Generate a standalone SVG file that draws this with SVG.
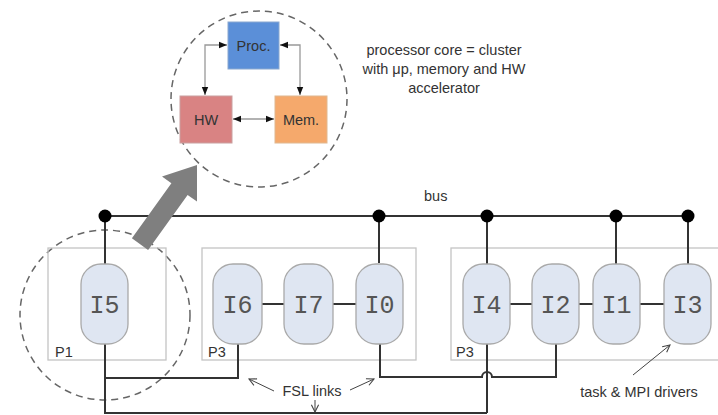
<svg xmlns="http://www.w3.org/2000/svg" width="718" height="415" viewBox="0 0 718 415">
<defs>
<style>
.box{fill:none;stroke:#c4c4c4;stroke-width:1.3}
.pill{fill:#dfe6f2;stroke:#a9a9a9;stroke-width:1.3}
.pl{font-family:"Liberation Mono","Courier New",monospace;font-size:25px;fill:#555;text-anchor:middle}
.lbl{font-family:"Liberation Sans",Arial,sans-serif;font-size:14.5px;fill:#333}
.wire{fill:none;stroke:#333;stroke-width:2}
.thin{fill:none;stroke:#444;stroke-width:1}
.dash{fill:none;stroke:#666;stroke-width:1.5;stroke-dasharray:7,5}
.dot{fill:#000}
</style>
<marker id="ah" viewBox="0 0 10 10" refX="10" refY="5" markerWidth="8" markerHeight="8" orient="auto-start-reverse" markerUnits="userSpaceOnUse">
<path d="M0,1 L10,5 L0,9 z" fill="#111"/>
</marker>
<marker id="oa" viewBox="0 0 10 10" refX="9" refY="5" markerWidth="9" markerHeight="9" orient="auto" markerUnits="userSpaceOnUse">
<path d="M1,1 L9,5 L1,9" fill="none" stroke="#444" stroke-width="1.2"/>
</marker>
</defs>
<rect width="718" height="415" fill="#fff"/>

<g id="cluster">
<circle class="dash" cx="259" cy="99" r="88"/>
<g id="proc"><rect x="228" y="22" width="51" height="47" fill="#5b8fd8" stroke="#8aa8d0"/><text class="lbl" x="253.5" y="51" text-anchor="middle" fill="#1a2a50" font-size="15">Proc.</text></g>
<g id="hw"><rect x="180" y="96" width="52" height="47" fill="#d98383" stroke="#c9a0a0"/><text class="lbl" x="206" y="125" text-anchor="middle" font-size="15">HW</text></g>
<g id="mem"><rect x="275" y="96" width="52" height="47" fill="#f5a96c" stroke="#e0b890"/><text class="lbl" x="301" y="125" text-anchor="middle" font-size="15">Mem.</text></g>
<g id="cluster-links" stroke="#999" stroke-width="1.3" fill="none">
<path d="M227,45 H205 V95" marker-start="url(#ah)" marker-end="url(#ah)"/>
<path d="M280,45 H300 V95" marker-start="url(#ah)" marker-end="url(#ah)"/>
<path d="M233,119 H274" marker-start="url(#ah)" marker-end="url(#ah)"/>
</g>
</g>

<text class="lbl" text-anchor="middle" font-size="14.5"><tspan x="444" y="55">processor core = cluster</tspan><tspan x="444" y="74">with μp, memory and HW</tspan><tspan x="444" y="93">accelerator</tspan></text>
<text class="lbl" x="424" y="201" font-size="15">bus</text>

<circle class="dash" cx="105" cy="315" r="85"/>

<g id="p1"><rect class="box" x="48" y="248" width="118" height="112"/><text class="lbl" x="55" y="357">P1</text></g>
<g id="p3a"><rect class="box" x="202" y="248" width="214" height="112"/><text class="lbl" x="208" y="357">P3</text></g>
<g id="p3b"><rect class="box" x="451" y="248" width="280" height="112"/><text class="lbl" x="456" y="357">P3</text></g>

<g id="connectors">
<path class="wire" d="M105,216 H688"/>
<path class="wire" d="M105,216 V264 M379,216 V263 M487,216 V264 M616,216 V264 M688,216 V264"/>
<path class="wire" d="M262,304 H284 M333,304 H356 M510,304 H532 M579,304 H593 M640,304 H664"/>
<path class="wire" d="M105,344 V413 H487 M105,378 H238 V344"/>
<path class="wire" d="M380,344 V377 H482 A5,5 0 0 1 492,377 H556 V344"/>
<path class="wire" d="M487,344 V413"/>
</g>

<g id="i5"><rect class="pill" x="81" y="264" width="47" height="80" rx="20"/><text class="pl" x="104.5" y="313">I5</text></g>
<g id="i6"><rect class="pill" x="213" y="264" width="49" height="80" rx="20"/><text class="pl" x="237.5" y="313">I6</text></g>
<g id="i7"><rect class="pill" x="284" y="264" width="49" height="80" rx="20"/><text class="pl" x="308.5" y="313">I7</text></g>
<g id="i0"><rect class="pill" x="356" y="264" width="47" height="80" rx="20"/><text class="pl" x="379.5" y="313">I0</text></g>
<g id="i4"><rect class="pill" x="463" y="264" width="47" height="80" rx="20"/><text class="pl" x="486.5" y="313">I4</text></g>
<g id="i2"><rect class="pill" x="532" y="264" width="47" height="80" rx="20"/><text class="pl" x="555.5" y="313">I2</text></g>
<g id="i1"><rect class="pill" x="593" y="264" width="47" height="80" rx="20"/><text class="pl" x="616.5" y="313">I1</text></g>
<g id="i3"><rect class="pill" x="664" y="264" width="47" height="80" rx="20"/><text class="pl" x="687.5" y="313">I3</text></g>

<g id="dots">
<circle class="dot" cx="105" cy="216" r="6.5"/>
<circle class="dot" cx="379" cy="216" r="6.5"/>
<circle class="dot" cx="487" cy="216" r="6.5"/>
<circle class="dot" cx="616" cy="216" r="6.5"/>
<circle class="dot" cx="688" cy="216" r="6.5"/>
</g>

<polygon points="148.1,249.9 131.9,238.2 171.4,183.2 162,176.4 197,165 197,201.6 187.6,194.9" fill="#7f7f7f"/>

<text class="lbl" x="312" y="396" text-anchor="middle" font-size="15">FSL links</text>
<path class="thin" d="M274,391 L249,379" marker-end="url(#oa)"/>
<path class="thin" d="M350,390 L374,379" marker-end="url(#oa)"/>
<path class="thin" d="M315,400 V412" marker-end="url(#oa)"/>

<text class="lbl" x="639" y="397" text-anchor="middle">task &amp; MPI drivers</text>
<path class="thin" d="M633,375 L670,345" marker-end="url(#oa)"/>
</svg>
